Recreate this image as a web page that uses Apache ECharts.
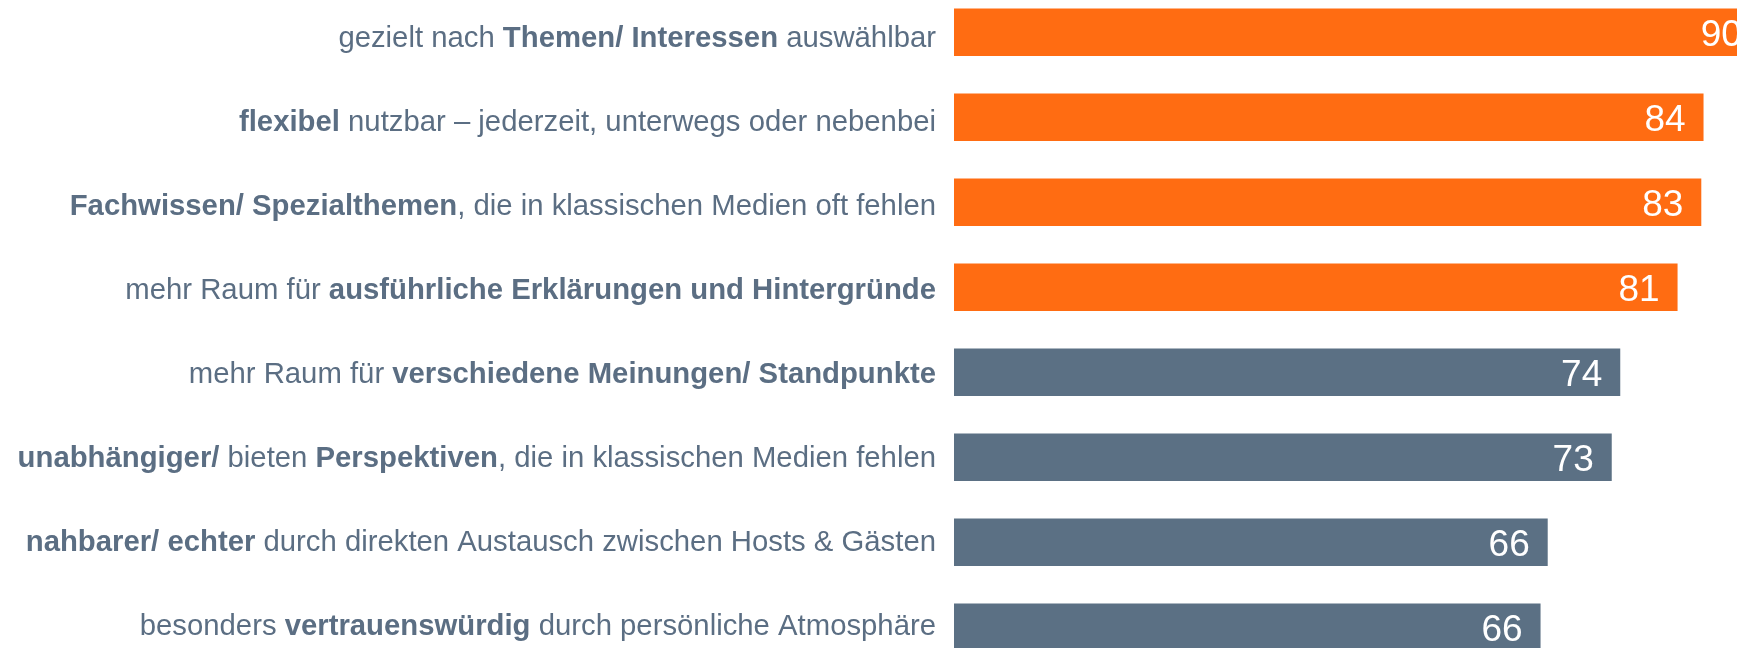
<!DOCTYPE html>
<html lang="de">
<head>
    <meta charset="utf-8">
    <script src="https://cdn.jsdelivr.net/npm/echarts@6/dist/echarts.min.js"></script>
    <title>Podcast-Vorteile</title>
    <style>
        html, body { margin: 0; padding: 0; background: #fff; }
        #container { width: 1737px; height: 648px; }
    </style>
</head>
<body>
<div id="container"></div>
<script type="text/javascript">
    // **...** marks the bold parts of a label
    const categories = [
        'gezielt nach **Themen/ Interessen** auswählbar',
        '**flexibel** nutzbar – jederzeit, unterwegs oder nebenbei',
        '**Fachwissen/ Spezialthemen**, die in klassischen Medien oft fehlen',
        'mehr Raum für **ausführliche Erklärungen und Hintergründe**',
        'mehr Raum für **verschiedene Meinungen/ Standpunkte**',
        '**unabhängiger/** bieten **Perspektiven**, die in klassischen Medien fehlen',
        '**nahbarer/ echter** durch direkten Austausch zwischen Hosts & Gästen',
        'besonders **vertrauenswürdig** durch persönliche Atmosphäre'
    ];
    const values = [90.0, 83.7, 83.45, 80.8, 74.4, 73.45, 66.3, 65.5];
    const highlighted = 4; // top entries drawn in orange

    const ORANGE = '#FF6C12';
    const GREY = '#5B7084';
    const TEXT = '#5B6E83';
    const FONT = '"Liberation Sans", Arial, sans-serif';

    function toRich(label) {
        return label.split('**').map(function (part, i) {
            if (!part) return '';
            return '{' + (i % 2 ? 'b' : 'n') + '|' + part + '}';
        }).join('');
    }

    const chart = echarts.init(document.getElementById('container'), null, {renderer: 'canvas'});

    const option = {
        animation: false,
        grid: [
            // bars
            {left: 954, top: -10.25, height: 680, width: 895.5, outerBoundsMode: 'none', containLabel: false},
            // text column, rows a little tighter than the bars
            {left: 954, top: -10.2, height: 672, width: 895.5, outerBoundsMode: 'none', containLabel: false}
        ],
        xAxis: [
            {gridIndex: 0, type: 'value', min: 0, max: 100, show: false},
            {gridIndex: 1, type: 'value', min: 0, max: 100, show: false}
        ],
        yAxis: [
            {
                gridIndex: 0,
                type: 'category',
                inverse: true,
                data: categories,
                axisLine: {show: false},
                axisTick: {show: false},
                splitLine: {show: false},
                axisLabel: {show: false}
            },
            {
                gridIndex: 1,
                type: 'category',
                inverse: true,
                data: categories,
                axisLine: {show: false},
                axisTick: {show: false},
                splitLine: {show: false},
                axisLabel: {
                    margin: 18,
                    align: 'right',
                    formatter: function (v) { return toRich(v); },
                    rich: {
                        n: {fontSize: 29.3, fontFamily: FONT, color: TEXT, padding: [14, 0, 0, 0]},
                        b: {fontSize: 29.3, fontFamily: FONT, color: TEXT, fontWeight: 'bold', padding: [14, 0, 0, 0]}
                    }
                }
            }
        ],
        series: [{
            type: 'bar',
            xAxisIndex: 0,
            yAxisIndex: 0,
            data: values,
            barWidth: 47.5,
            itemStyle: {
                color: function (p) { return p.dataIndex < highlighted ? ORANGE : GREY; }
            },
            label: {
                show: true,
                position: 'insideRight',
                distance: 18,
                offset: [0, 3.5],
                color: '#fff',
                fontSize: 37,
                fontFamily: FONT,
                formatter: function (p) { return Math.round(p.value); }
            }
        }]
    };

    chart.setOption(option);
</script>
</body>
</html>
